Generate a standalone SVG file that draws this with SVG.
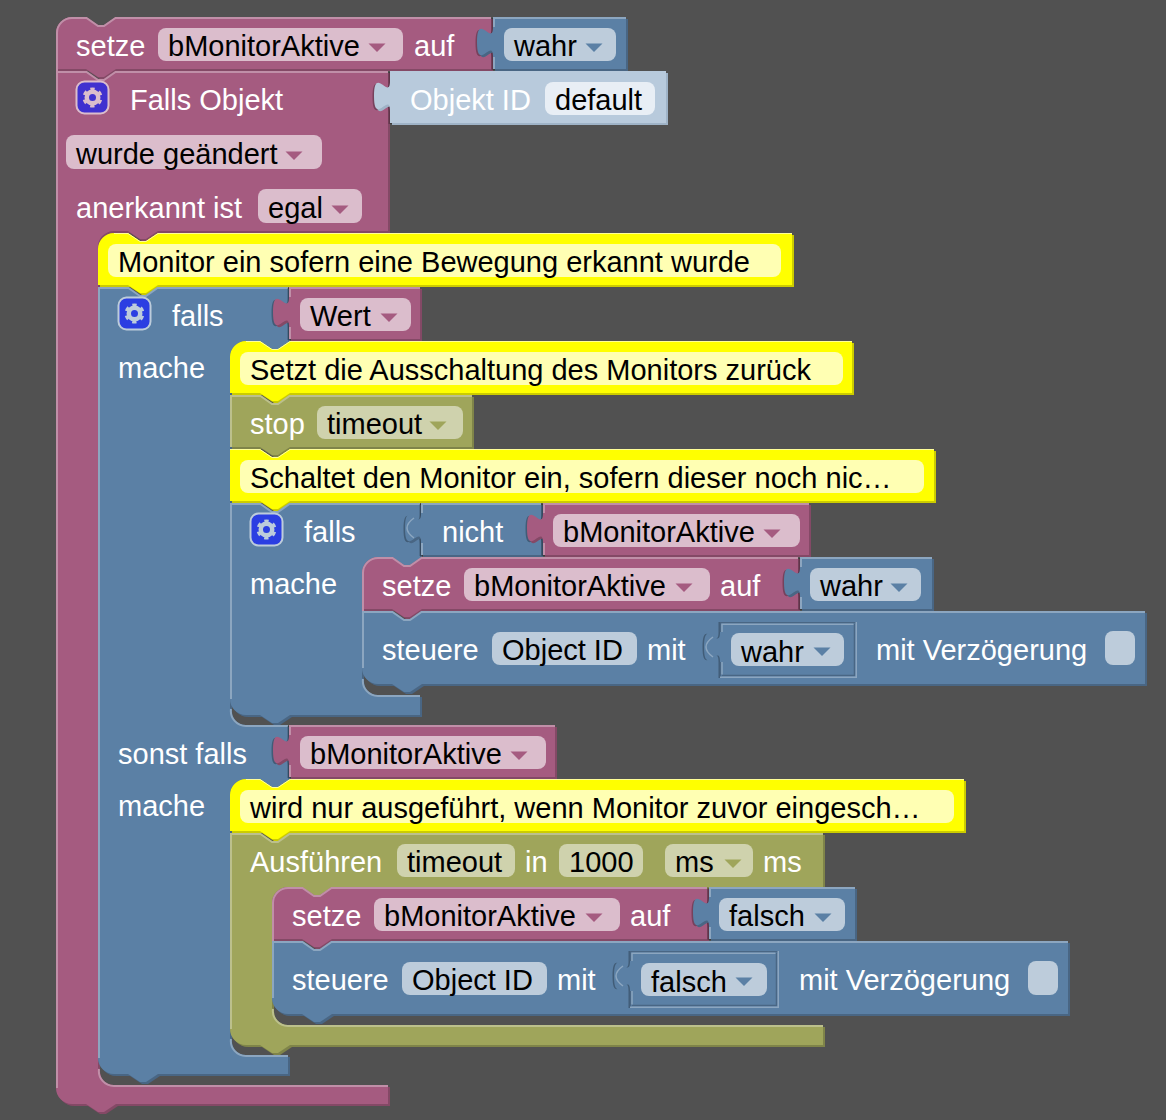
<svg xmlns="http://www.w3.org/2000/svg" width="1166" height="1120" viewBox="0 0 1166 1120">
<style>
text{font-family:"Liberation Sans",Arial,sans-serif;font-size:29px;fill:#fff;white-space:pre;transform:translateY(-.5px)}
text.k{fill:#000}
.m{fill:#a55b80}.md{fill:#844966}.ml{stroke:#c08fa8}
.b{fill:#5b80a5}.bd{fill:#496684}.bl{stroke:#8ca6c0}
.o{fill:#9fa55b}.od{fill:#7f8449}.ol{stroke:#bcc08c}
.y{fill:#ff0}.yd{fill:#cc0}.yl{stroke:#ff9}
.s{fill:#b8cadc}.sd{fill:#9fb3c7}
.h{fill:#000;opacity:.28}
.ml,.bl,.ol,.yl{fill:none;stroke-width:2}
.yl{stroke-width:1}
.sh1,.sh2{fill:none;stroke-width:1.5}
.sh1{stroke:#496684}.sh2{stroke:#8ca6c0}
.tl{fill:none;stroke:#8ca6c0;stroke-width:1.5}
.fm{fill:#dbbdcc}.fb{fill:#bdccdb}.fo{fill:#cfd2ad}.fy{fill:#ffffb3}.fw{fill:#e8eef5}
.gb{stroke-width:2;stroke:#dbbdcc}.gr{fill:none;stroke:#dbbdcc}
.gb2{stroke-width:2;stroke:#bdccdb}.gr2{fill:none;stroke:#bdccdb}
.am{fill:#a55b80}.ab{fill:#5b80a5}.ao{fill:#9fa55b}
</style>
<defs>
<path id="dd" d="M-8.5,0 H8.5 L0,8.5 Z"/>
<path id="tab-light" d="M-7,35 Q-21,25 -7,15"/>
<g id="gear1"><rect x="-16" y="-16" width="32" height="32" rx="8" fill="#4031cf" class="gb"/><circle r="5.75" stroke-width="4.5" class="gr"/><circle r="8.5" stroke-width="3" stroke-dasharray="4.2 4.7" transform="rotate(-104.2)" class="gr"/></g>
<g id="gear2"><rect x="-16" y="-16" width="32" height="32" rx="8" fill="#2b3ee2" class="gb2"/><circle r="5.75" stroke-width="4.5" class="gr2"/><circle r="8.5" stroke-width="3" stroke-dasharray="4.2 4.7" transform="rotate(-104.2)" class="gr2"/></g>
<path id="p1" d="M56,33 A16,16 0 0 1 72,17 H86 l12,8 h6 l12,-8 H491 V69 H116 l-12,8 h-6 l-12,-8 H56 Z"/>
<path id="p2" d="M493,17 H626 V69 H493 V57 c0,-20 -16,16 -16,-15 s16,5 16,-15 Z"/>
<path id="p3" d="M56,71 H86 l12,8 h6 l12,-8 H388 V231 H158 l-12,8 h-6 l-12,-8 H114 A16,16 0 0 0 98,249 V1069 A16,16 0 0 0 114,1085 H388 V1104 H116 l-12,8 h-6 l-12,-8 H72 A16,16 0 0 1 56,1088 Z"/>
<path id="p4" d="M390,71 H666 V123 H390 V111 c0,-20 -16,16 -16,-15 s16,5 16,-15 Z"/>
<path id="p5" d="M98,249 A16,16 0 0 1 114,233 H128 l12,8 h6 l12,-8 H792 V285 H158 l-12,8 h-6 l-12,-8 H98 Z"/>
<path id="p6" d="M98,287 H128 l12,8 h6 l12,-8 H288 V341 H290 l-12,8 h-6 l-12,-8 H246 A16,16 0 0 0 230,357 V709 A16,16 0 0 0 246,725 H288 V779 H290 l-12,8 h-6 l-12,-8 H246 A16,16 0 0 0 230,795 V1039 A16,16 0 0 0 246,1055 H288 V1074 H158 l-12,8 h-6 l-12,-8 H114 A16,16 0 0 1 98,1058 Z"/>
<path id="p7" d="M289,287 H420 V339 H289 V327 c0,-20 -16,16 -16,-15 s16,5 16,-15 Z"/>
<path id="p8" d="M230,357 A16,16 0 0 1 246,341 H260 l12,8 h6 l12,-8 H852 V393 H290 l-12,8 h-6 l-12,-8 H230 Z"/>
<path id="p9" d="M230,395 H260 l12,8 h6 l12,-8 H472 V447 H290 l-12,8 h-6 l-12,-8 H230 Z"/>
<path id="p10" d="M230,449 H260 l12,8 h6 l12,-8 H934 V501 H290 l-12,8 h-6 l-12,-8 H230 Z"/>
<path id="p11" d="M230,503 H260 l12,8 h6 l12,-8 H420 V557 H422 l-12,8 h-6 l-12,-8 H378 A16,16 0 0 0 362,573 V679 A16,16 0 0 0 378,695 H420 V715 H290 l-12,8 h-6 l-12,-8 H246 A16,16 0 0 1 230,699 Z"/>
<path id="p12" d="M421,503 H541 V555 H421 V543 c0,-20 -16,16 -16,-15 s16,5 16,-15 Z"/>
<path id="p13" d="M543,503 H809 V555 H543 V543 c0,-20 -16,16 -16,-15 s16,5 16,-15 Z"/>
<path id="p14" d="M362,573 A16,16 0 0 1 378,557 H392 l12,8 h6 l12,-8 H798 V609 H422 l-12,8 h-6 l-12,-8 H362 Z"/>
<path id="p15" d="M800,557 H932 V609 H800 V597 c0,-20 -16,16 -16,-15 s16,5 16,-15 Z"/>
<path id="p16" d="M362,611 H392 l12,8 h6 l12,-8 H1145 V684 H422 l-12,8 h-6 l-12,-8 H378 A16,16 0 0 1 362,668 Z"/>
<path id="p17" d="M720,622 H857 V678 H720 V662 c0,-20 -16,16 -16,-15 s16,5 16,-15 Z"/>
<path id="p18" d="M289,725 H555 V777 H289 V765 c0,-20 -16,16 -16,-15 s16,5 16,-15 Z"/>
<path id="p19" d="M230,795 A16,16 0 0 1 246,779 H260 l12,8 h6 l12,-8 H964 V831 H290 l-12,8 h-6 l-12,-8 H230 Z"/>
<path id="p20" d="M230,833 H260 l12,8 h6 l12,-8 H823 V887 H332 l-12,8 h-6 l-12,-8 H288 A16,16 0 0 0 272,903 V1009 A16,16 0 0 0 288,1025 H823 V1045 H290 l-12,8 h-6 l-12,-8 H246 A16,16 0 0 1 230,1029 Z"/>
<path id="p21" d="M272,903 A16,16 0 0 1 288,887 H302 l12,8 h6 l12,-8 H707 V939 H332 l-12,8 h-6 l-12,-8 H272 Z"/>
<path id="p22" d="M709,887 H855 V939 H709 V927 c0,-20 -16,16 -16,-15 s16,5 16,-15 Z"/>
<path id="p23" d="M272,941 H302 l12,8 h6 l12,-8 H1068 V1014 H332 l-12,8 h-6 l-12,-8 H288 A16,16 0 0 1 272,998 Z"/>
<path id="p24" d="M630,951 H779 V1008 H630 V991 c0,-20 -16,16 -16,-15 s16,5 16,-15 Z"/>
</defs>
<rect width="1166" height="1120" fill="#515151"/>
<g id="blocks">

<g id="setze-top">
<use href="#p1" x="2" y="2" class="md"/><use href="#p1" class="m"/>
<path class="ml" d="M57,71 V33 A15,15 0 0 1 72,18 H86.5 l11.5,8 h6 l11.5,-8 H491"/>
<text x="76" y="56">setze</text>
<rect x="158" y="28" width="245" height="33" rx="8" class="fm"/><text x="168" y="56" class="k">bMonitorAktive</text><use href="#dd" x="377" y="43.5" class="am"/>
<text x="414" y="56">auf</text>
</g>
<g id="wahr-top">
<use href="#p2" x="-1.5" y="1" class="h"/><use href="#p2" x="2" y="2" class="bd"/><use href="#p2" class="b"/>
<path class="bl" d="M494,27 V18 H626 M494,57 V69"/>
<rect x="504" y="28" width="112" height="33" rx="8" class="fb"/><text x="514" y="56" class="k">wahr</text><use href="#dd" x="594" y="43.5" class="ab"/>
</g>

<g id="falls-objekt">
<use href="#p3" x="2" y="2" class="md"/><use href="#p3" class="m"/>
<path class="ml" d="M57,1088 V72 H86.5 l11.5,8 h6 l11.5,-8 H388 M99,1069 A15,15 0 0 0 114,1086 H388"/>
<use href="#gear1" x="92.5" y="97.5"/>
<text x="130" y="110">Falls Objekt</text>
<rect x="66" y="135" width="256" height="34" rx="8" class="fm"/><text x="76" y="164" class="k">wurde geändert</text><use href="#dd" x="294" y="151.5" class="am"/>
<text x="76" y="218">anerkannt ist</text>
<rect x="258" y="189" width="104" height="34" rx="8" class="fm"/><text x="268" y="218" class="k">egal</text><use href="#dd" x="340" y="205.5" class="am"/>
</g>
<g id="objekt-id">
<use href="#p4" x="-1.5" y="1" class="h"/><use href="#p4" x="2" y="2" class="sd"/><use href="#p4" class="s"/>
<text x="410" y="110">Objekt ID</text>
<rect x="545" y="82" width="110" height="33" rx="8" class="fw"/><text x="555" y="110" class="k">default</text>
</g>

<g id="comment-1">
<use href="#p5" x="2" y="2" class="yd"/><use href="#p5" class="y"/>
<path class="yl" d="M114,233.5 H128 l12,8 h6 l12,-8 H792"/>
<rect x="108" y="244" width="673" height="33" rx="8" class="fy"/><text x="118" y="272" class="k">Monitor ein sofern eine Bewegung erkannt wurde</text>
</g>

<g id="falls-1">
<use href="#p6" x="2" y="2" class="bd"/><use href="#p6" class="b"/>
<path class="bl" d="M99,1058 V288 H128.5 l11.5,8 h6 l11.5,-8 H288 M231,709 A15,15 0 0 0 246,726 H288 M231,1039 A15,15 0 0 0 246,1056 H288"/>
<use href="#gear2" x="134.5" y="313.5"/>
<text x="172" y="326">falls</text>
<text x="118" y="378">mache</text>
<text x="118" y="764">sonst falls</text>
<text x="118" y="816">mache</text>
</g>
<g id="wert">
<use href="#p7" x="-1.5" y="1" class="h"/><use href="#p7" x="2" y="2" class="md"/><use href="#p7" class="m"/>
<path class="ml" d="M290,297 V288 H420 M290,327 V339"/>
<rect x="300" y="298" width="111" height="33" rx="8" class="fm"/><text x="310" y="326" class="k">Wert</text><use href="#dd" x="389" y="313.5" class="am"/>
</g>

<g id="comment-2">
<use href="#p8" x="2" y="2" class="yd"/><use href="#p8" class="y"/>
<path class="yl" d="M246,341.5 H260 l12,8 h6 l12,-8 H852"/>
<rect x="240" y="352" width="603" height="33" rx="8" class="fy"/><text x="250" y="380" class="k">Setzt die Ausschaltung des Monitors zurück</text>
</g>
<g id="stop">
<use href="#p9" x="2" y="2" class="od"/><use href="#p9" class="o"/>
<path class="ol" d="M231,447 V396 H260.5 l11.5,8 h6 l11.5,-8 H472"/>
<text x="250" y="434">stop</text>
<rect x="317" y="406" width="146" height="33" rx="8" class="fo"/><text x="327" y="434" class="k">timeout</text><use href="#dd" x="438" y="421.5" class="ao"/>
</g>
<g id="comment-3">
<use href="#p10" x="2" y="2" class="yd"/><use href="#p10" class="y"/>
<path class="yl" d="M230,449.5 H260 l12,8 h6 l12,-8 H934"/>
<rect x="240" y="460" width="684" height="33" rx="8" class="fy"/><text x="250" y="488" class="k">Schaltet den Monitor ein, sofern dieser noch nic…</text>
</g>

<g id="falls-2">
<use href="#p11" x="2" y="2" class="bd"/><use href="#p11" class="b"/>
<path class="bl" d="M231,699 V504 H260.5 l11.5,8 h6 l11.5,-8 H420 M363,679 A15,15 0 0 0 378,696 H420"/>
<use href="#gear2" x="266.5" y="529.5"/>
<text x="304" y="542">falls</text>
<text x="250" y="594">mache</text>
</g>
<g id="nicht">
<use href="#p12" x="-1.5" y="1" class="h"/><use href="#p12" x="2" y="2" class="bd"/><use href="#p12" class="b"/>
<use href="#tab-light" x="421" y="503" class="tl"/>
<path class="bl" d="M422,513 V504 H541 M422,543 V555"/>
<text x="442" y="542">nicht</text>
</g>
<g id="wert-monitor-1">
<use href="#p13" x="-1.5" y="1" class="h"/><use href="#p13" x="2" y="2" class="md"/><use href="#p13" class="m"/>
<path class="ml" d="M544,513 V504 H809 M544,543 V555"/>
<rect x="553" y="514" width="247" height="33" rx="8" class="fm"/><text x="563" y="542" class="k">bMonitorAktive</text><use href="#dd" x="772" y="529.5" class="am"/>
</g>
<g id="setze-2">
<use href="#p14" x="2" y="2" class="md"/><use href="#p14" class="m"/>
<path class="ml" d="M363,611 V573 A15,15 0 0 1 378,558 H392.5 l11.5,8 h6 l11.5,-8 H798"/>
<text x="382" y="596">setze</text>
<rect x="464" y="568" width="246" height="33" rx="8" class="fm"/><text x="474" y="596" class="k">bMonitorAktive</text><use href="#dd" x="684" y="583.5" class="am"/>
<text x="720" y="596">auf</text>
</g>
<g id="wahr-2">
<use href="#p15" x="-1.5" y="1" class="h"/><use href="#p15" x="2" y="2" class="bd"/><use href="#p15" class="b"/>
<path class="bl" d="M801,567 V558 H932 M801,597 V609"/>
<rect x="810" y="568" width="111" height="33" rx="8" class="fb"/><text x="820" y="596" class="k">wahr</text><use href="#dd" x="899" y="583.5" class="ab"/>
</g>
<g id="steuere-1">
<use href="#p16" x="2" y="2" class="bd"/><use href="#p16" class="b"/>
<path class="bl" d="M363,668 V612 H392.5 l11.5,8 h6 l11.5,-8 H1145"/>
<text x="382" y="660">steuere</text>
<rect x="492" y="632" width="145" height="33" rx="8" class="fb"/><text x="502" y="660" class="k">Object ID</text>
<text x="647" y="660">mit</text>
<text x="876" y="660">mit Verzögerung</text>
<rect x="1105" y="631" width="30" height="34" rx="8" class="fb"/>
</g>
<g id="wahr-shadow">
<use href="#p17" x="-1.5" y="0" class="h"/><use href="#p17" class="b"/>
<use href="#tab-light" x="720" y="622" class="tl"/>
<path class="sh1" d="M720.5,632 V622.75 H856 M720.5,662 V677 M854.5,624 V675.5 H722"/>
<path class="sh2" d="M722,632 V624.25 H853.5 M722,662 V674.5 M856.25,622 V677.25 H720"/>
<rect x="731" y="633" width="113" height="33" rx="8" class="fb"/><text x="741" y="662" class="k">wahr</text><use href="#dd" x="822" y="647.5" class="ab"/>
</g>

<g id="wert-monitor-2">
<use href="#p18" x="-1.5" y="1" class="h"/><use href="#p18" x="2" y="2" class="md"/><use href="#p18" class="m"/>
<path class="ml" d="M290,735 V726 H555 M290,765 V777"/>
<rect x="300" y="736" width="246" height="33" rx="8" class="fm"/><text x="310" y="764" class="k">bMonitorAktive</text><use href="#dd" x="519" y="751.5" class="am"/>
</g>
<g id="comment-4">
<use href="#p19" x="2" y="2" class="yd"/><use href="#p19" class="y"/>
<path class="yl" d="M246,779.5 H260 l12,8 h6 l12,-8 H964"/>
<rect x="240" y="790" width="714" height="33" rx="8" class="fy"/><text x="250" y="818" class="k">wird nur ausgeführt, wenn Monitor zuvor eingesch…</text>
</g>
<g id="ausfuehren">
<use href="#p20" x="2" y="2" class="od"/><use href="#p20" class="o"/>
<path class="ol" d="M231,1029 V834 H260.5 l11.5,8 h6 l11.5,-8 H823 M273,1009 A15,15 0 0 0 288,1026 H823"/>
<text x="250" y="872">Ausführen</text>
<rect x="397" y="844" width="118" height="33" rx="8" class="fo"/><text x="407" y="872" class="k">timeout</text>
<text x="525" y="872">in</text>
<rect x="559" y="844" width="84" height="33" rx="8" class="fo"/><text x="569" y="872" class="k">1000</text>
<rect x="665" y="844" width="88" height="33" rx="8" class="fo"/><text x="675" y="872" class="k">ms</text><use href="#dd" x="733" y="859.5" class="ao"/>
<text x="763" y="872">ms</text>
</g>
<g id="setze-3">
<use href="#p21" x="2" y="2" class="md"/><use href="#p21" class="m"/>
<path class="ml" d="M273,941 V903 A15,15 0 0 1 288,888 H302.5 l11.5,8 h6 l11.5,-8 H707"/>
<text x="292" y="926">setze</text>
<rect x="374" y="898" width="246" height="33" rx="8" class="fm"/><text x="384" y="926" class="k">bMonitorAktive</text><use href="#dd" x="594" y="913.5" class="am"/>
<text x="630" y="926">auf</text>
</g>
<g id="falsch-1">
<use href="#p22" x="-1.5" y="1" class="h"/><use href="#p22" x="2" y="2" class="bd"/><use href="#p22" class="b"/>
<path class="bl" d="M710,897 V888 H855 M710,927 V939"/>
<rect x="719" y="898" width="126" height="33" rx="8" class="fb"/><text x="729" y="926" class="k">falsch</text><use href="#dd" x="823" y="913.5" class="ab"/>
</g>
<g id="steuere-2">
<use href="#p23" x="2" y="2" class="bd"/><use href="#p23" class="b"/>
<path class="bl" d="M273,998 V942 H302.5 l11.5,8 h6 l11.5,-8 H1068"/>
<text x="292" y="990">steuere</text>
<rect x="402" y="962" width="145" height="33" rx="8" class="fb"/><text x="412" y="990" class="k">Object ID</text>
<text x="557" y="990">mit</text>
<text x="799" y="990">mit Verzögerung</text>
<rect x="1028" y="961" width="30" height="34" rx="8" class="fb"/>
</g>
<g id="falsch-shadow">
<use href="#p24" x="-1.5" y="0" class="h"/><use href="#p24" class="b"/>
<use href="#tab-light" x="630" y="951" class="tl"/>
<path class="sh1" d="M630.5,961 V951.75 H778 M630.5,991 V1007 M776.5,953 V1005.5 H632"/>
<path class="sh2" d="M632,961 V953.25 H775.5 M632,991 V1004.5 M778.25,951 V1007.25 H630"/>
<rect x="641" y="963" width="126" height="33" rx="8" class="fb"/><text x="651" y="992" class="k">falsch</text><use href="#dd" x="744" y="977.5" class="ab"/>
</g>
</g>
<g id="connectors"/>
</svg>
